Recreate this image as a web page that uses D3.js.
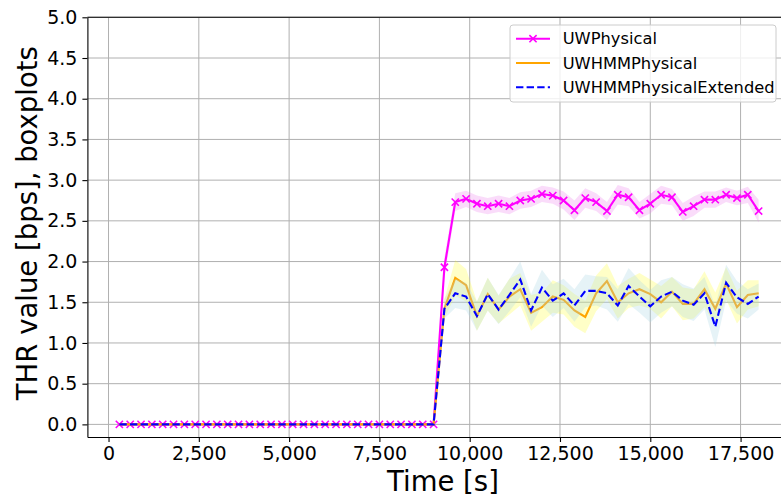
<!DOCTYPE html>
<meta charset="utf-8">
<style>
    body { margin: 0; background: #fff; }
    text { font-family: "DejaVu Sans", sans-serif; fill: #000; }
    .grid line { stroke: #b0b0b0; stroke-width: 1; }
    .axis path, .axis line { stroke: #000; stroke-width: 1.1; }
</style>
<body>
<script src="https://cdn.jsdelivr.net/npm/d3@7"></script>
<script>
// sample times [s]
var times = [300,600,900,1200,1500,1800,2100,2400,2700,3000,3300,3600,3900,4200,4500,4800,5100,5400,5700,6000,
             6300,6600,6900,7200,7500,7800,8100,8400,8700,9000,9300,9600,9900,10200,10500,10800,11100,11400,11700,12000,
             12300,12600,12900,13200,13500,13800,14100,14400,14700,15000,15300,15600,15900,16200,16500,16800,17100,17400,17700,18000];

// mean THR per series
var uwPhysical = [0,0,0,0,0,0,0,0,0,0,0,0,0,0,0,0,0,0,0,0,0,0,0,0,0,0,0,0,0,0,
    1.93,2.73,2.77,2.71,2.68,2.71,2.68,2.75,2.77,2.83,2.81,2.75,2.63,2.78,2.73,
    2.62,2.82,2.79,2.63,2.71,2.82,2.79,2.61,2.68,2.76,2.76,2.82,2.78,2.82,2.62];
var uwHmmPhysical = [0,0,0,0,0,0,0,0,0,0,0,0,0,0,0,0,0,0,0,0,0,0,0,0,0,0,0,0,0,0,
    1.42,1.80,1.71,1.33,1.60,1.41,1.57,1.66,1.37,1.44,1.57,1.53,1.40,1.32,1.61,
    1.76,1.50,1.61,1.66,1.60,1.50,1.63,1.48,1.48,1.66,1.42,1.73,1.44,1.59,1.61];
var uwHmmPhysicalExt = [0,0,0,0,0,0,0,0,0,0,0,0,0,0,0,0,0,0,0,0,0,0,0,0,0,0,0,0,0,0,
    1.42,1.61,1.57,1.33,1.60,1.41,1.59,1.78,1.40,1.68,1.52,1.61,1.46,1.64,1.64,
    1.61,1.46,1.70,1.57,1.45,1.57,1.63,1.52,1.47,1.61,1.20,1.74,1.56,1.48,1.57];

// half-width of the shaded spread per series
var uwPhysicalSpread = [0,0,0,0,0,0,0,0,0,0,0,0,0,0,0,0,0,0,0,0,0,0,0,0,0,0,0,0,0,0,
    0.12,0.11,0.10,0.10,0.10,0.10,0.10,0.10,0.10,0.10,0.10,0.11,0.12,0.12,0.11,
    0.11,0.12,0.11,0.10,0.12,0.11,0.10,0.11,0.12,0.10,0.10,0.09,0.09,0.10,0.14];
var uwHmmPhysicalSpread = [0,0,0,0,0,0,0,0,0,0,0,0,0,0,0,0,0,0,0,0,0,0,0,0,0,0,0,0,0,0,
    0.12,0.22,0.20,0.18,0.20,0.17,0.22,0.20,0.22,0.18,0.20,0.18,0.20,0.20,0.22,
    0.22,0.20,0.18,0.20,0.18,0.20,0.18,0.20,0.18,0.22,0.20,0.20,0.20,0.18,0.16];
var uwHmmPhysicalExtSpread = [0,0,0,0,0,0,0,0,0,0,0,0,0,0,0,0,0,0,0,0,0,0,0,0,0,0,0,0,0,0,
    0.12,0.18,0.17,0.18,0.20,0.18,0.20,0.22,0.20,0.22,0.20,0.18,0.20,0.20,0.18,
    0.20,0.20,0.22,0.20,0.20,0.20,0.18,0.20,0.20,0.20,0.25,0.22,0.20,0.18,0.16];

var xTicks = [0,2500,5000,7500,10000,12500,15000,17500];
var yTicks = [0,0.5,1,1.5,2,2.5,3,3.5,4,4.5,5];

var series = [
    {name: "UWPhysical", values: uwPhysical, spread: uwPhysicalSpread,
     color: "#ff00ff", band: "#ee82ee", bandOpacity: 0.28, dash: null, marker: true},
    {name: "UWHMMPhysical", values: uwHmmPhysical, spread: uwHmmPhysicalSpread,
     color: "#ffa500", band: "#ffff00", bandOpacity: 0.22, dash: null, marker: false},
    {name: "UWHMMPhysicalExtended", values: uwHmmPhysicalExt, spread: uwHmmPhysicalExtSpread,
     color: "#0000ff", band: "#add8e6", bandOpacity: 0.3, dash: "7.4,3.2", marker: false}
];

// plot box (right spine falls outside the picture)
var W = 781, H = 502,
    pLeft = 87.4, pRight = 790.6, pTop = 17.3, pBottom = 437;

var x = d3.scaleLinear().domain([-585, 18885]).range([pLeft, pRight]);
var y = d3.scaleLinear().domain([-0.155, 5]).range([pBottom, pTop]);

var svg = d3.select("body").append("svg")
    .attr("width", W)
    .attr("height", H);

svg.append("clipPath").attr("id", "clip")
    .append("rect").attr("x", pLeft).attr("y", pTop)
    .attr("width", pRight - pLeft).attr("height", pBottom - pTop);

// grid
var grid = svg.append("g").attr("class", "grid");
grid.selectAll(".gx").data(xTicks).enter().append("line")
    .attr("x1", d => x(d)).attr("x2", d => x(d))
    .attr("y1", pTop).attr("y2", pBottom);
grid.selectAll(".gy").data(yTicks).enter().append("line")
    .attr("x1", pLeft).attr("x2", pRight)
    .attr("y1", d => y(d)).attr("y2", d => y(d));

var plot = svg.append("g").attr("clip-path", "url(#clip)");

var area = d3.area()
    .x((d, i) => x(times[i]))
    .y0(d => y(d[0]))
    .y1(d => y(d[1]));

var line = d3.line()
    .x((d, i) => x(times[i]))
    .y(d => y(d));

// bands + lines, one series after the other
series.forEach(function(s) {
    var bandData = s.values.map((v, i) => [v - s.spread[i], v + s.spread[i]]);
    plot.append("path")
        .datum(bandData)
        .attr("d", area)
        .attr("fill", s.band)
        .attr("fill-opacity", s.bandOpacity);

    plot.append("path")
        .datum(s.values)
        .attr("d", line)
        .attr("fill", "none")
        .attr("stroke", s.color)
        .attr("stroke-width", 2.1)
        .attr("stroke-dasharray", s.dash);

    if (s.marker) {
        plot.selectAll(".mk").data(s.values).enter().append("path")
            .attr("transform", (d, i) => "translate(" + x(times[i]) + "," + y(d) + ")")
            .attr("d", "M-3.6,-3.6L3.6,3.6M-3.6,3.6L3.6,-3.6")
            .attr("stroke", s.color)
            .attr("stroke-width", 1.6);
    }
});

// axes
var xAxis = svg.append("g").attr("class", "axis")
    .attr("transform", "translate(0," + pBottom + ")")
    .call(d3.axisBottom(x).tickValues(xTicks).tickFormat(d3.format(","))
        .tickSize(5).tickSizeOuter(0).tickPadding(4.5));
xAxis.selectAll("text").style("font-size", "19px");

var yAxis = svg.append("g").attr("class", "axis")
    .attr("transform", "translate(" + pLeft + ",0)")
    .call(d3.axisLeft(y).tickValues(yTicks).tickFormat(d3.format(".1f"))
        .tickSize(5).tickSizeOuter(0).tickPadding(5));
yAxis.selectAll("text").style("font-size", "19px");

// top spine
svg.append("line")
    .attr("x1", pLeft).attr("x2", pRight)
    .attr("y1", pTop).attr("y2", pTop)
    .attr("stroke", "#000").attr("stroke-width", 1.1);

// axis titles
svg.append("text")
    .attr("x", (pLeft + pRight) / 2 + 4)
    .attr("y", 491)
    .attr("text-anchor", "middle")
    .style("font-size", "27.5px")
    .text("Time [s]");

svg.append("text")
    .attr("transform", "translate(37," + ((pTop + pBottom) / 2 - 4) + ") rotate(-90)")
    .attr("text-anchor", "middle")
    .style("font-size", "27.5px")
    .text("THR value [bps], boxplots");

// legend
var lg = svg.append("g").attr("transform", "translate(510,25)");
lg.append("rect")
    .attr("width", 266).attr("height", 77).attr("rx", 3)
    .attr("fill", "#fff").attr("fill-opacity", 0.8)
    .attr("stroke", "#cccccc");

var rows = lg.selectAll(".row").data(series).enter().append("g")
    .attr("transform", (d, i) => "translate(0," + (13.7 + i * 24.3) + ")");
rows.append("line")
    .attr("x1", 6).attr("x2", 40)
    .attr("stroke", d => d.color)
    .attr("stroke-width", 2.1)
    .attr("stroke-dasharray", d => d.dash);
rows.filter(d => d.marker).append("path")
    .attr("transform", "translate(23,0)")
    .attr("d", "M-3.6,-3.6L3.6,3.6M-3.6,3.6L3.6,-3.6")
    .attr("stroke", d => d.color)
    .attr("stroke-width", 1.6);
rows.append("text")
    .attr("x", 52.7)
    .attr("dy", "0.35em")
    .style("font-size", "16.3px")
    .text(d => d.name);
</script>
</body>
